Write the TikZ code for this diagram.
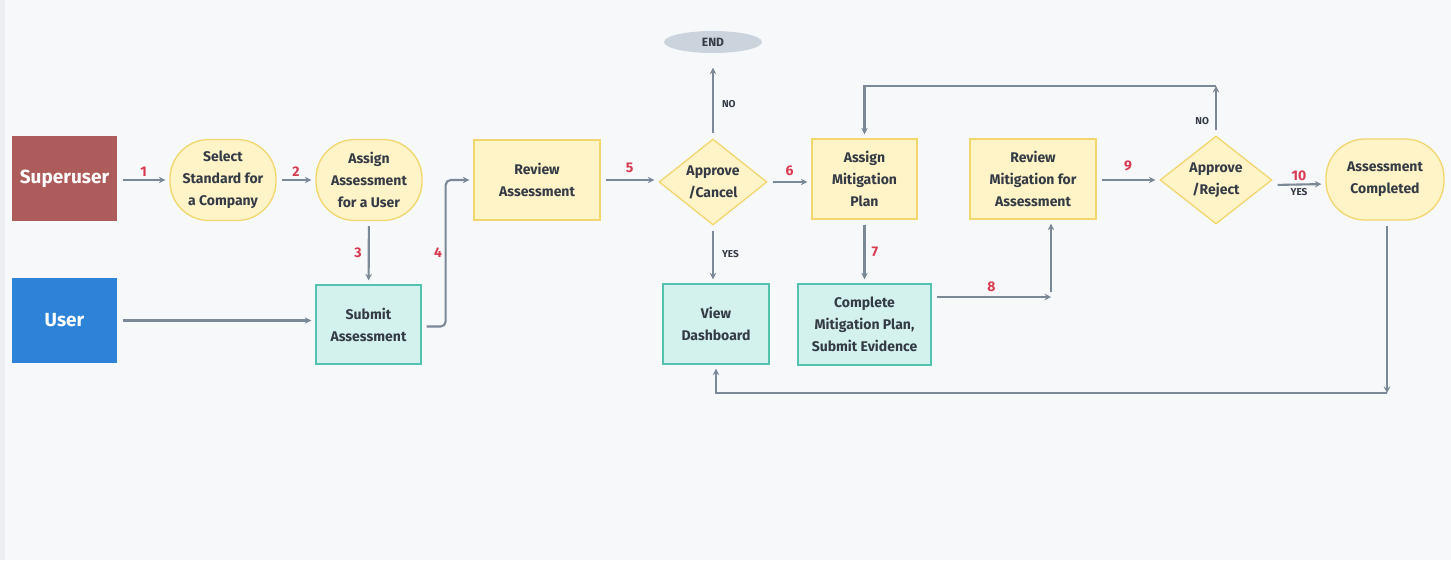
\documentclass[tikz,border=0pt]{standalone}
\usepackage{fontspec}
\setmainfont{Fira Sans}
\usetikzlibrary{shapes.geometric,arrows.meta}
\definecolor{bg}{HTML}{F7F8FA}
\definecolor{strip}{HTML}{ECEEF1}
\definecolor{suc}{HTML}{AD5B5B}
\definecolor{usc}{HTML}{2C83D7}
\definecolor{yfill}{HTML}{FFF3C8}
\definecolor{ydraw}{HTML}{F2D66E}
\definecolor{tfill}{HTML}{D3F1ED}
\definecolor{tdraw}{HTML}{55C2AF}
\definecolor{txt}{HTML}{343B45}
\definecolor{numc}{HTML}{D83A50}
\definecolor{arrc}{HTML}{7B8897}
\definecolor{endc}{HTML}{CBD3DC}
\tikzset{
  base/.style={font=\fontsize{14}{22}\selectfont\bfseries, text=txt, align=center, inner sep=0pt, line width=1.3pt},
  actor/.style={base, rectangle, minimum width=105pt, minimum height=85pt, text=white, font=\fontsize{19}{23}\selectfont\bfseries},
  ybox/.style={base, rectangle, fill=yfill, draw=ydraw, minimum width=#1, minimum height=80pt},
  tbox/.style={base, rectangle, fill=tfill, draw=tdraw, minimum width=#1, minimum height=80pt},
  ystad/.style={base, rectangle, rounded corners=39pt, fill=yfill, draw=ydraw, minimum width=#1, minimum height=81pt},
  ydia/.style={base, diamond, aspect=1.25, fill=yfill, draw=ydraw, minimum width=#1, minimum height=86pt},
  arr/.style={draw=arrc, line width=2.1pt, -{Stealth[length=6.5pt,width=6.5pt]}, shorten <=5pt, shorten >=4pt},
  num/.style={text=numc, font=\fontsize{14}{15}\selectfont\bfseries, inner sep=2pt},
  yn/.style={text=txt, font=\fontsize{10}{12}\selectfont\bfseries, inner sep=2pt},
}
\begin{document}
\begin{tikzpicture}[x=1pt,y=-1pt]
\fill[bg] (0,0) rectangle (1451,560);
\fill[strip] (0,0) rectangle (5,560);
\useasboundingbox (0,0) rectangle (1451,560);

\node[actor, fill=suc] (su) at (64.5,178.5) {Superuser};
\node[actor, fill=usc] (us) at (64.5,320.5) {User};
\node[ystad=106pt] (sel) at (223,180) {Select\\Standard for\\a Company};
\node[ystad=106pt] (asg) at (369,180) {Assign\\Assessment\\for a User};
\node[tbox=105pt, minimum height=79pt] (sub) at (368.5,324.5) {Submit\\Assessment};
\node[ybox=126pt] (rev) at (537,180) {Review\\Assessment};
\node[ydia=108pt] (ac) at (713,182) {Approve\\/Cancel};
\node[base, ellipse, fill=endc, minimum width=98pt, minimum height=22pt, font=\fontsize{12}{14}\selectfont\bfseries] (end) at (713,42) {END};
\node[tbox=106pt] (vd) at (716,324) {View\\Dashboard};
\node[ybox=105pt] (am) at (864.5,179) {Assign\\Mitigation\\Plan};
\node[tbox=133pt, minimum height=81pt] (cm) at (864.5,324.5) {Complete\\Mitigation Plan,\\Submit Evidence};
\node[ybox=126pt] (rm) at (1033,179) {Review\\Mitigation for\\Assessment};
\node[ydia=112pt, minimum height=88pt] (ar) at (1216,180) {Approve\\/Reject};
\node[ystad=118pt] (done) at (1385,179.5) {Assessment\\Completed};

% 1, 2
\draw[arr] (su.east |- sel.west) -- node[num, above] {1} (sel.west);
\draw[arr] (sel) -- node[num, above] {2} (asg);
% 3
\draw[arr] (asg) -- node[num, left=4pt] {3} (sub);
% user -> submit
\draw[arr] (us.east) -- (sub.west |- us.east);
% 4
\draw[arr, rounded corners=5pt] ([yshift=-2]sub.east) -- ++(24,0) |- (rev.west);
\node[num] (n4) at (438,253) {4};
% 5
\draw[arr] (rev.east) -- node[num, above=4pt] {5} (ac.west |- rev.east);
% NO / YES from Approve/Cancel
\draw[arr, shorten >=14pt] (ac.north) -- node[yn, right=6pt, pos=0.4] {NO} (end.south);
\draw[arr] (ac.south) -- node[yn, right=6pt] {YES} (vd.north -| ac.south);
% 6
\draw[arr] (ac.east) -- node[num, above=3pt] {6} (am.west |- ac.east);
% 7
\draw[arr] (am) -- node[num, right=4pt] {7} (cm);
% 8
\coordinate (c8) at (1051,297);
\draw[arr, shorten >=0pt] (cm.east |- c8) -- node[num, above=2pt] {8} (c8);
\draw[arr] (c8) -- (c8 |- rm.south);
% 9
\draw[arr] (rm.east |- ar.west) -- node[num, above=6pt] {9} (ar.west);
% NO from Approve/Reject
\coordinate (cno) at (1216,86);
\draw[arr, shorten >=0pt] (ar.north) -- node[yn, left=4pt, pos=0.3] {NO} (cno);
\draw[arr, shorten <=0pt] (cno) -| (am.north);
% 10
\draw[arr] ([yshift=-5]ar.east) -- node[num, above=1pt] {10} node[yn, below=1pt] {YES} ([yshift=-4.5]done.west);
% bottom return
\coordinate (cb) at (1387,393);
\draw[arr, shorten >=0pt] (done.south -| cb) -- (cb);
\draw[arr, shorten <=0pt] (cb) -| (vd.south);
\end{tikzpicture}
\end{document}
